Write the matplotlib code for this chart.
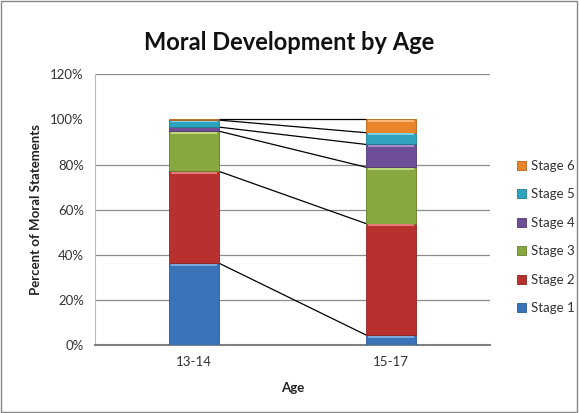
import matplotlib
matplotlib.use("Agg")
import matplotlib.pyplot as plt
import numpy as np
from matplotlib.patches import Rectangle

plt.rcParams['font.family'] = ['Lato', 'DejaVu Sans']

categories = ["13-14", "15-17"]
stages = ["Stage 1", "Stage 2", "Stage 3", "Stage 4", "Stage 5", "Stage 6"]
age_13_14 = [36.3, 40.7, 17.8, 1.8, 3.1, 0.3]
age_15_17 = [4.4, 49.4, 25.0, 10.1, 5.2, 5.9]
yticks = [0, 20, 40, 60, 80, 100, 120]
gridlines = [20, 40, 60, 80, 120]

colors = ["#3B73B9", "#B9312F", "#86A83E", "#6E4E96", "#2FA3BE", "#E8842A"]
edges = ["#2A5A94", "#8E2422", "#627C2C", "#513873", "#1F7D93", "#B5621A"]
highlights = ["#7FA9DE", "#E57A78", "#BFDA7E", "#A68BC9", "#7FD3E6", "#F9B674"]

fig = plt.figure(figsize=(5.79, 4.13), dpi=100)
ax = fig.add_axes([95/579, (413-345)/413, (490-95)/579, (345-74.3)/413])

x = np.arange(len(categories))
width = 0.254
data = np.array([age_13_14, age_15_17])  # shape (cats, stages)
bottoms = np.zeros(len(categories))

for gi in gridlines:
    ax.axhline(gi, color="#8C8C8C", lw=0.9, zorder=0)

for si, st in enumerate(stages):
    vals = data[:, si]
    ax.bar(x, vals, width, bottom=bottoms, color=colors[si], edgecolor=edges[si],
           linewidth=0.6, label=st, zorder=3)
    # bevel highlight strip at top of each segment
    for ci in range(len(categories)):
        h = vals[ci]
        if h > 1.0:
            hh = min(1.0, h * 0.2)
            ax.add_patch(Rectangle((x[ci] - width/2 + 0.01, bottoms[ci] + h - hh - 0.2),
                                   width - 0.02, hh, color=highlights[si], lw=0, zorder=4))
    bottoms = bottoms + vals

# series lines connecting segment tops
cum = np.cumsum(data, axis=1)
for si in range(len(stages)):
    ax.plot([x[0] + width/2, x[1] - width/2], [cum[0, si], cum[1, si]],
            color="black", lw=0.9, zorder=2)

ax.set_xlim(-0.5, 1.5)
ax.set_ylim(0, 120)
ax.set_xticks(x)
ax.set_xticklabels(categories, fontsize=9.5, color="#333333")
ax.set_yticks(yticks)
ax.set_yticklabels([f"{v}%" for v in yticks], fontsize=9.5, color="#333333")
ax.tick_params(axis='both', length=0, pad=8)
for s in ["top", "right"]:
    ax.spines[s].set_visible(False)
ax.spines["left"].set_color("#BBBBBB")
ax.spines["left"].set_linewidth(0.8)
ax.spines["bottom"].set_color("#808080")
ax.spines["bottom"].set_linewidth(1.5)

ax.set_xlabel("Age", fontsize=9.5, fontweight="bold", color="#222222", labelpad=10)
ax.set_ylabel("Percent of Moral Statements", fontsize=9.5, fontweight="bold", color="#222222", labelpad=6)

fig.text(0.5, (413-42)/413, "Moral Development by Age", ha="center", va="center",
         fontsize=17, fontweight="bold", color="#111111")

handles, labels = ax.get_legend_handles_labels()
leg = fig.legend(handles[::-1], labels[::-1], loc="center left",
                 bbox_to_anchor=(505/579, (413-237)/413), frameon=False,
                 fontsize=9.5, handlelength=0.7, handleheight=0.7,
                 labelspacing=1.25, handletextpad=0.4)
for t in leg.get_texts():
    t.set_color("#333333")

fig.add_artist(Rectangle((0.002, 0.003), 0.994, 0.994, transform=fig.transFigure,
                         fill=False, edgecolor="#888888", lw=1.0))

fig.savefig("out.png", dpi=100)
